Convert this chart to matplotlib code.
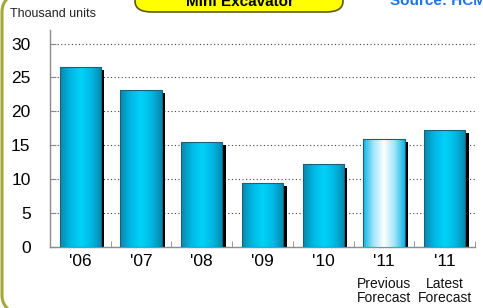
import numpy as np
import matplotlib.pyplot as plt
from matplotlib.patches import FancyBboxPatch, PathPatch
from matplotlib.path import Path
from matplotlib import patheffects as pe
from matplotlib.colors import LinearSegmentedColormap

plt.rcParams['font.family'] = ['Liberation Sans', 'DejaVu Sans']

years = ["'06", "'07", "'08", "'09", "'10", "'11", "'11"]
subtitles = ["", "", "", "", "", "Previous\nForecast", "Latest\nForecast"]
units = [26.6, 23.2, 15.5, 9.5, 12.2, 16.0, 17.3]
is_previous = [False, False, False, False, False, True, False]

W, H = 483, 308
fig = plt.figure(figsize=(W / 100, H / 100), dpi=100)
fig.patch.set_facecolor('white')

# page frame on the left (pixel coords -> figure coords)
pts = [(8, -2), (2, 3), (2, 12), (2, 296), (2, 304), (9, 310)]
codes = [Path.MOVETO, Path.CURVE3, Path.CURVE3, Path.LINETO, Path.CURVE3, Path.CURVE3]
verts = [(px / W, 1 - py / H) for px, py in pts]
fig.add_artist(PathPatch(Path(verts, codes), transform=fig.transFigure, facecolor='none',
                         edgecolor='#a6a63a', linewidth=2.2, zorder=0))

ax = fig.add_axes([50 / W, 1 - 247 / H, 425 / W, 217 / H])
ax.set_facecolor('none')

x = np.arange(len(years))
w = 0.68

cyan = LinearSegmentedColormap.from_list('cyl', ['#0788ad', '#00b8e4', '#00d2fa', '#00b8e4', '#0788ad'])
pale = LinearSegmentedColormap.from_list('pale', ['#10b6e6', '#9fe6fb', '#ffffff', '#9fe6fb', '#10b6e6'])
grad = np.linspace(0, 1, 200).reshape(1, -1)

# shadow
ax.bar(x, units, width=w, color='none', zorder=2,
       path_effects=[pe.SimplePatchShadow(offset=(2.5, -2.5), shadow_rgbFace='black', alpha=1.0)])

bars = ax.bar(x, units, width=w, color='none', edgecolor='#1b5f78', linewidth=0.8, zorder=4)
for b, prev in zip(bars, is_previous):
    x0, y0 = b.get_x(), b.get_y()
    im = ax.imshow(grad, cmap=pale if prev else cyan, aspect='auto', zorder=3,
                   extent=(x0, x0 + b.get_width(), y0, y0 + b.get_height()))
    im.set_clip_path(b)

ax.set_xlim(-0.5, len(years) - 0.5)
ax.set_ylim(0, 32)
ax.set_yticks(range(0, 31, 5))
ax.set_xticks(x)
ax.set_xticklabels(years, fontsize=12.5)
ax.set_xticks(np.arange(-0.5, len(years), 1), minor=True)
ax.tick_params(axis='x', which='major', length=0, pad=5)
ax.tick_params(axis='x', which='minor', direction='in', length=4, color='#888888')
ax.tick_params(axis='y', direction='in', length=4, color='#888888', labelsize=12.5, pad=14)

for v in range(5, 31, 5):
    ax.axhline(v, color='#444444', linestyle=(0, (1, 2.2)), linewidth=0.8, zorder=1)

for s in ['top', 'right']:
    ax.spines[s].set_visible(False)
for s in ['left', 'bottom']:
    ax.spines[s].set_color('#8c8c8c')
    ax.spines[s].set_linewidth(1.0)

for xi, sub in zip(x, subtitles):
    if sub:
        ax.text(xi, -0.14, sub, transform=ax.get_xaxis_transform(), ha='center', va='top',
                fontsize=10, linespacing=0.95, color='#111111')

fig.text(10 / W, 1 - 14 / H, 'Thousand units', fontsize=9, va='center', color='#222222')

title_box = FancyBboxPatch((135 / W, 1 - 12 / H), 208 / W, 0.1,
                           boxstyle='round,pad=0,rounding_size=0.035', transform=fig.transFigure,
                           facecolor='#ffff00', edgecolor='#5a5a1a', linewidth=1.2, zorder=5)
fig.add_artist(title_box)
fig.text(240 / W, 1 - 6 / H, 'Mini Excavator', fontsize=11, fontweight='bold',
         ha='center', va='baseline', zorder=6)
fig.text(390 / W, 1 - 5 / H, 'Source: HCM', fontsize=11, fontweight='bold',
         color='#1a73e8', ha='left', va='baseline')

fig.savefig('out.png', dpi=100)
